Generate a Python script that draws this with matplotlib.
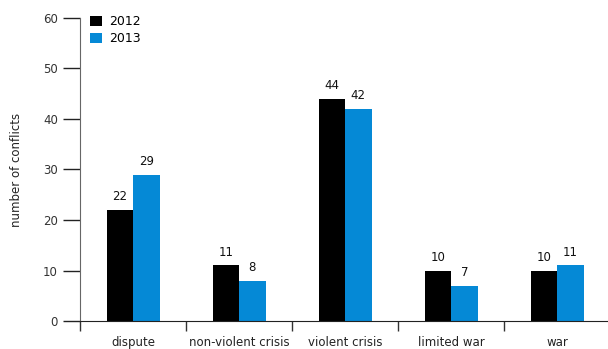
import matplotlib.pyplot as plt
import numpy as np

categories = ['dispute', 'non-violent crisis', 'violent crisis', 'limited war', 'war']
conflicts_2012 = [22, 11, 44, 10, 10]
conflicts_2013 = [29, 8, 42, 7, 11]
years = ['2012', '2013']

fig = plt.figure(figsize=(6.08, 3.49), dpi=100)
ax = fig.add_axes([80/608, 28/349, 530/608, 303/349])

x = np.arange(len(categories))
w = 0.25
b1 = ax.bar(x - w/2, conflicts_2012, w, color='black', label=years[0])
b2 = ax.bar(x + w/2, conflicts_2013, w, color='#0589d6', label=years[1])

for bars in (b1, b2):
    for rect in bars:
        h = rect.get_height()
        ax.text(rect.get_x() + rect.get_width()/2, h + 1.3, '%d' % h,
                ha='center', va='bottom', fontsize=8.5, color='#111111')

ax.set_xlim(-0.5, 4.5)
ax.set_ylim(0, 60)
ax.set_yticks(range(0, 61, 10))
ax.tick_params(axis='y', direction='out', length=12, width=1, color='#222222',
               labelsize=8.5, labelcolor='#333333', pad=4)

# category labels at centres, separator ticks between categories
ax.set_xticks(x)
ax.set_xticklabels(categories)
ax.tick_params(axis='x', which='major', length=0, pad=11, labelsize=8.5, labelcolor='#222222')
ax.set_xticks(np.arange(-0.5, 4.6, 1), minor=True)
ax.tick_params(axis='x', which='minor', direction='out', length=7, width=1, color='#333333')

for s in ['top', 'right']:
    ax.spines[s].set_visible(False)
ax.spines['left'].set_color('#666666')
ax.spines['bottom'].set_color('#222222')

ax.set_ylabel('number of conflicts', fontsize=8.5, color='#222222', labelpad=14)

ax.legend(loc='upper left', bbox_to_anchor=(0.01, 1.025), frameon=False, fontsize=9,
          handlelength=0.9, handleheight=0.9, handletextpad=0.6, labelspacing=0.3,
          borderaxespad=0)

fig.savefig('out.png', dpi=100)
